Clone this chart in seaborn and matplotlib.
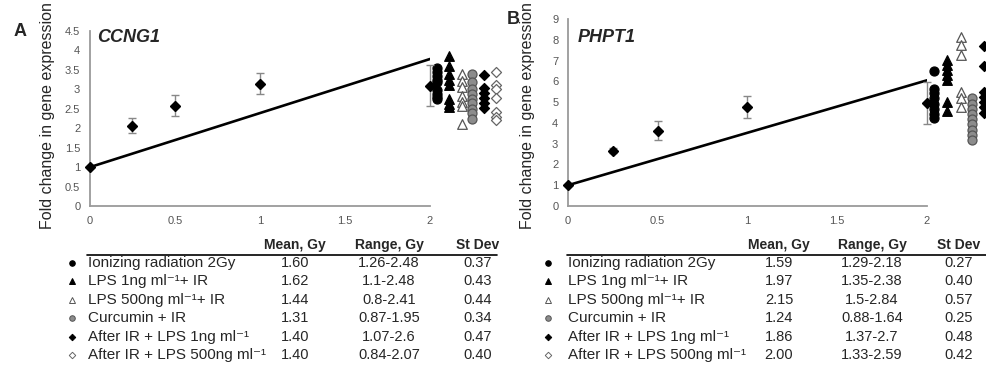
import matplotlib
matplotlib.use("Agg")
import matplotlib.pyplot as plt
from matplotlib.lines import Line2D
import numpy as np
import pandas as pd
import seaborn as sns

# dose-response means (fold change) with their spread
dose = [0, 0.25, 0.5, 1, 2]
ccng1_mean = [1.0, 2.07, 2.58, 3.15, 3.09]
ccng1_err = [0.0, 0.19, 0.27, 0.26, 0.53]
phpt1_mean = [1.0, 2.67, 3.62, 4.77, 4.97]
phpt1_err = [0.0, 0.12, 0.45, 0.52, 1.02]

# fitted calibration line (dose 0 -> 2 Gy)
fit_dose = [0, 2]
ccng1_fit = [1.0, 3.78]
phpt1_fit = [1.0, 6.05]

groups = [
    "Ionizing radiation 2Gy",
    "LPS 1ng ml\u207b\u00b9+ IR",
    "LPS 500ng ml\u207b\u00b9+ IR",
    "Curcumin + IR",
    "After IR + LPS 1ng ml\u207b\u00b9",
    "After IR + LPS 500ng ml\u207b\u00b9",
]

# individual samples per treatment group
ccng1_samples = [
    [3.55, 3.45, 3.35, 3.25, 3.18, 2.98, 2.88, 2.8, 2.75],
    [3.85, 3.6, 3.4, 3.25, 3.1, 2.75, 2.62, 2.55],
    [3.4, 3.22, 3.07, 2.82, 2.68, 2.56, 2.12],
    [3.4, 3.2, 3.0, 2.88, 2.76, 2.64, 2.5, 2.38, 2.24],
    [3.36, 3.04, 2.9, 2.78, 2.64, 2.52],
    [3.45, 3.1, 3.0, 2.78, 2.42, 2.3, 2.2],
]
phpt1_samples = [
    [6.5, 5.65, 5.42, 5.18, 4.92, 4.68, 4.45, 4.22],
    [7.05, 6.8, 6.55, 6.3, 6.05, 5.0, 4.55],
    [8.15, 7.75, 7.28, 5.5, 5.18, 4.77],
    [5.18, 4.92, 4.68, 4.42, 4.18, 3.93, 3.68, 3.42, 3.2],
    [7.7, 6.72, 5.5, 5.25, 5.0, 4.75, 4.5],
    [],
]

# estimated dose table
ccng1_est_mean = [1.60, 1.62, 1.44, 1.31, 1.40, 1.40]
ccng1_est_range = ["1.26-2.48", "1.1-2.48", "0.8-2.41", "0.87-1.95", "1.07-2.6", "0.84-2.07"]
ccng1_est_sd = [0.37, 0.43, 0.44, 0.34, 0.47, 0.40]
phpt1_est_mean = [1.59, 1.97, 2.15, 1.24, 1.86, 2.00]
phpt1_est_range = ["1.29-2.18", "1.35-2.38", "1.5-2.84", "0.88-1.64", "1.37-2.7", "1.33-2.59"]
phpt1_est_sd = [0.27, 0.40, 0.57, 0.25, 0.48, 0.42]

# marker style per group: marker, face, edge, scatter size
group_style = [
    ("o", "black", "black", 42),
    ("^", "black", "black", 48),
    ("^", "white", "#555555", 48),
    ("o", "#8c8c8c", "#555555", 42),
    ("D", "black", "black", 26),
    ("D", "white", "#666666", 26),
]
group_offset = [0.04, 0.11, 0.19, 0.25, 0.32, 0.39]

W, H = 987, 376

sns.set_style("white")
plt.rcParams["font.family"] = ["Liberation Sans", "DejaVu Sans"]

fig = plt.figure(figsize=(W / 100, H / 100), dpi=100)


def fx(px):
    return px / W


def fy(py):
    return 1 - py / H


def draw_panel(rect, mean, err, fit, samples, ymax, ystep):
    ax = fig.add_axes(rect)
    sns.lineplot(x=fit_dose, y=fit, color="black", lw=1.9, ax=ax, zorder=2)
    ax.errorbar(dose, mean, yerr=err, fmt="D", color="black", ms=4.6,
                ecolor="#888888", elinewidth=1, capsize=3, capthick=1,
                clip_on=False, zorder=4)
    for vals, (m, fc, ec, s), off in zip(samples, group_style, group_offset):
        if len(vals) == 0:
            continue
        df = pd.DataFrame({"x": 2 + off, "y": vals})
        sns.scatterplot(data=df, x="x", y="y", marker=m, s=s, color=fc,
                        edgecolor=ec, linewidth=0.9, clip_on=False,
                        legend=False, ax=ax, zorder=3)
    ax.set_xlim(0, 2)
    ax.set_ylim(0, ymax)
    ax.set_xticks([0, 0.5, 1, 1.5, 2])
    ax.set_xticklabels(["0", "0.5", "1", "1.5", "2"])
    ticks = np.arange(0, ymax + 0.01, ystep)
    ax.set_yticks(ticks)
    ax.set_yticklabels(["%g" % t for t in ticks])
    ax.set_xlabel("")
    ax.set_ylabel("")
    sns.despine(ax=ax)
    for sp in ("left", "bottom"):
        ax.spines[sp].set_color("#9a9a9a")
        ax.spines[sp].set_linewidth(1.3)
    ax.tick_params(direction="out", length=3, width=1, color="#9a9a9a",
                   labelcolor="#555555", labelsize=8, pad=4)
    return ax


ax_a = draw_panel([fx(90), fy(206), fx(340), 175 / H],
                  ccng1_mean, ccng1_err, ccng1_fit, ccng1_samples, 4.5, 0.5)
ax_b = draw_panel([fx(568), fy(206), fx(359), 187 / H],
                  phpt1_mean, phpt1_err, phpt1_fit, phpt1_samples, 9, 1)

ylab = "Fold change in gene expression"
fig.text(fx(48), fy(116), ylab, rotation=90, ha="center", va="center", fontsize=11.5)
fig.text(fx(528), fy(116), ylab, rotation=90, ha="center", va="center", fontsize=11.5)
fig.text(fx(20), fy(31), "A", ha="center", va="center", fontsize=13, fontweight="bold")
fig.text(fx(513), fy(20), "B", ha="center", va="center", fontsize=13, fontweight="bold")
fig.text(fx(97), fy(37), "CCNG1", ha="left", va="center", fontsize=13,
         fontweight="bold", fontstyle="italic")
fig.text(fx(578), fy(38), "PHPT1", ha="left", va="center", fontsize=13,
         fontweight="bold", fontstyle="italic")


def draw_table(x_mark, x_text, col_x, line_x, means, ranges, sds):
    fig.text(fx(col_x[0]), fy(245), "Mean, Gy", ha="center", va="center",
             fontsize=10, fontweight="bold")
    fig.text(fx(col_x[1]), fy(245), "Range, Gy", ha="center", va="center",
             fontsize=10, fontweight="bold")
    fig.text(fx(col_x[2]), fy(245), "St Dev", ha="center", va="center",
             fontsize=10, fontweight="bold")
    fig.add_artist(Line2D([fx(line_x[0]), fx(line_x[1])], [fy(255), fy(255)],
                          color="black", lw=1.2, transform=fig.transFigure))
    for i, name in enumerate(groups):
        y = fy(263 + i * 18.4)
        m, fc, ec, s = group_style[i]
        fig.add_artist(Line2D([fx(x_mark)], [y], marker=m, ms=4 if m != "D" else 3.3,
                              mfc=fc, mec=ec, mew=0.7, ls="none",
                              transform=fig.transFigure))
        fig.text(fx(x_text), y, name, ha="left", va="center", fontsize=11)
        fig.text(fx(col_x[0]), y, "%.2f" % means[i], ha="center", va="center", fontsize=10.5)
        fig.text(fx(col_x[1]), y, ranges[i], ha="center", va="center", fontsize=10.5)
        fig.text(fx(col_x[2]), y, "%.2f" % sds[i], ha="center", va="center", fontsize=10.5)


draw_table(72, 88, [295, 389, 478], [87, 497],
           ccng1_est_mean, ccng1_est_range, ccng1_est_sd)
draw_table(548, 568, [779, 872, 959], [567, 987],
           phpt1_est_mean, phpt1_est_range, phpt1_est_sd)

fig.savefig("out.png", dpi=100)
